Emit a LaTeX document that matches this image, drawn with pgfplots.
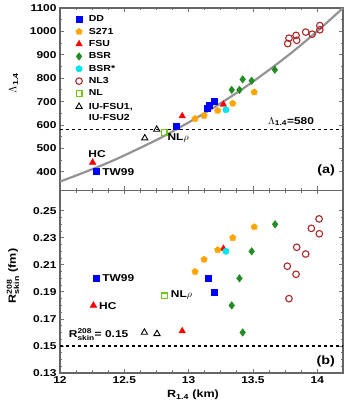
\documentclass[border=0pt]{standalone}
\usepackage{fontspec}
\setmainfont{Liberation Sans}[FakeStretch=1.2]
\usepackage{amsmath}
\usepackage{pgfplots}
\pgfplotsset{compat=1.18}
\definecolor{cDD}{RGB}{0,0,255}
\definecolor{cS}{RGB}{255,165,0}
\definecolor{cF}{RGB}{255,0,0}
\definecolor{cB}{RGB}{34,139,34}
\definecolor{cBs}{RGB}{0,230,235}
\definecolor{cNL3}{RGB}{170,40,40}
\definecolor{cNL}{RGB}{110,200,20}
\pgfplotsset{
  panel/.style={
    width=283bp, height=182.5bp, scale only axis,
    xmin=12, xmax=14.2, xtick={12,12.5,13,13.5,14}, minor x tick num=3,
    tick align=inside, axis line style={black!60, line width=1.5bp},
    tick style={black!55, line width=0.8bp},
    major tick length=4bp, minor tick length=2.5bp,
    tick label style={font=\bfseries\fontsize{10}{12}\selectfont},
    /pgf/number format/assume math mode=true,
    /pgf/number format/1000 sep={},
    label style={font=\bfseries\fontsize{10.5}{12}\selectfont},
    clip=false,
  },
  sDD/.style={only marks, mark=square*, mark size=3bp, color=cDD},
  sS/.style={only marks, mark=pentagon*, mark size=3.4bp, color=cS},
  sF/.style={only marks, mark=triangle*, mark size=3.8bp, color=cF},
  sB/.style={only marks, mark=diamond*, mark size=3.8bp, color=cB},
  sBs/.style={only marks, mark=*, mark size=3.2bp, color=cBs},
  sNL3/.style={only marks, mark=o, mark size=3.3bp, color=cNL3, mark options={line width=1.1bp}},
  sNL/.style={only marks, mark=square, mark size=2.9bp, color=cNL, mark options={line width=1.1bp}},
  sIU/.style={only marks, mark=triangle, mark size=3.6bp, color=black, mark options={line width=0.9bp}},
}
\begin{document}
\begin{tikzpicture}
\path[use as bounding box] (-60bp,-42bp) rectangle (296bp,373bp);
% ---------------- top panel (a)
\begin{axis}[panel, at={(0bp,182.5bp)}, anchor=south west,
  ymin=320, ymax=1100, ytick={400,500,...,1100}, minor y tick num=1,
  xticklabels={},
  ylabel={$\Lambda_{\text{1.4}}$},
  ylabel style={at={(axis description cs:-0.164,0.589)}, anchor=center, rotate=0},
  legend style={at={(axis description cs:0.055,0.970)}, anchor=north west, draw=none, fill=none,
    font=\bfseries\fontsize{8.8}{11.2}\selectfont, row sep=0.75pt, column sep=4.5bp, inner sep=0pt},
  legend cell align=left,
]
\addlegendimage{sDD}\addlegendentry{DD}
\addlegendimage{sS}\addlegendentry{S271}
\addlegendimage{sF}\addlegendentry{FSU}
\addlegendimage{sB}\addlegendentry{BSR}
\addlegendimage{sBs}\addlegendentry{BSR*}
\addlegendimage{sNL3}\addlegendentry{NL3}
\addlegendimage{sNL}\addlegendentry{NL}
\addlegendimage{sIU}\addlegendentry{\begin{tabular}[t]{@{}l@{}}IU-FSU1,\\IU-FSU2\end{tabular}}
\addplot[forget plot, black, dashed, dash pattern=on 3bp off 3bp, line width=1.3bp] coordinates {(12,580) (14.2,580)};
\addplot[forget plot, gray!85, line width=2.2bp, smooth] coordinates {
(12.0,358) (12.2,400) (12.4,445) (12.6,496) (12.8,550) (13.0,611) (13.2,676)
(13.4,747) (13.6,825) (13.8,909) (14.0,1001) (14.2,1100)};
\addplot[forget plot, sF] coordinates {(12.254,440) (12.95,638) (13.27,688)};
\addplot[forget plot, sDD] coordinates {(12.285,402) (12.90,593) (13.145,672) (13.16,683) (13.20,703)};
\addplot[forget plot, sS] coordinates {(13.05,627) (13.12,640) (13.226,661) (13.343,692) (13.51,740)};
\addplot[forget plot, sB] coordinates {(13.335,750) (13.395,750) (13.42,795) (13.49,789) (13.67,836)};
\addplot[forget plot, sBs] coordinates {(13.29,665)};
\addplot[forget plot, sNL3] coordinates {(13.77,948) (13.78,971) (13.835,983) (13.84,962) (13.91,997) (13.96,988) (14.02,1025) (14.02,1007)};
\addplot[forget plot, sNL] coordinates {(12.809,569)};
\addplot[forget plot, sIU] coordinates {(12.659,544) (12.752,581)};
\node[font=\bfseries\fontsize{10}{12}\selectfont] at (axis cs:12.288,474) {HC};
\node[font=\bfseries\fontsize{10}{12}\selectfont, anchor=west, inner sep=0pt] at (axis cs:12.327,399) {TW99};
\node[font=\bfseries\fontsize{10}{12}\selectfont, anchor=west, inner sep=0pt] at (axis cs:12.835,545) {NL$\rho$};
\node[font=\bfseries\fontsize{10}{12}\selectfont] at (axis cs:13.796,614) {$\Lambda_{\text{1.4}}$=580};
\node[font=\bfseries\fontsize{12}{14}\selectfont] at (axis cs:14.068,407) {(a)};
\end{axis}
% ---------------- bottom panel (b)
\begin{axis}[panel, at={(0bp,0bp)}, anchor=south west,
  ymin=0.13, ymax=0.265, ytick={0.13,0.15,0.17,0.19,0.21,0.23,0.25}, minor y tick num=3,
  yticklabel style={/pgf/number format/.cd, fixed, fixed zerofill, precision=2},
  xlabel={R$_{\text{1.4}}$ (km)},
  xlabel style={at={(axis description cs:0.470,-0.1205)}, anchor=center},
  ylabel={R$^{\text{208}}_{\text{skin}}$ (fm)},
  ylabel style={at={(axis description cs:-0.166,0.532)}, anchor=center, rotate=0},
]
\addplot[black, dashed, dash pattern=on 3bp off 3bp, line width=1.3bp] coordinates {(12,0.15) (14.2,0.15)};
\addplot[sF] coordinates {(12.26,0.180) (12.95,0.161) (13.27,0.222)};
\addplot[sDD] coordinates {(12.28,0.200) (13.153,0.200) (13.20,0.190)};
\addplot[sS] coordinates {(13.05,0.205) (13.12,0.214) (13.226,0.221) (13.343,0.230) (13.51,0.238)};
\addplot[sB] coordinates {(13.672,0.240) (13.49,0.220) (13.395,0.200) (13.335,0.180) (13.42,0.160)};
\addplot[sBs] coordinates {(13.29,0.220)};
\addplot[sNL3] coordinates {(14.014,0.244) (13.954,0.237) (14.016,0.233) (13.84,0.223) (13.91,0.218) (13.767,0.209) (13.835,0.203) (13.78,0.185)};
\addplot[sNL] coordinates {(12.81,0.187)};
\addplot[sIU] coordinates {(12.656,0.160) (12.754,0.159)};
\node[font=\bfseries\fontsize{10}{12}\selectfont, anchor=west, inner sep=0pt] at (axis cs:12.327,0.200) {TW99};
\node[font=\bfseries\fontsize{10}{12}\selectfont, anchor=west, inner sep=0pt] at (axis cs:12.303,0.1797) {HC};
\node[font=\bfseries\fontsize{10}{12}\selectfont, anchor=west, inner sep=0pt] at (axis cs:12.861,0.1874) {NL$\rho$};
\node[font=\bfseries\fontsize{10}{12}\selectfont, inner sep=1pt] at (axis cs:12.30,0.1585) {R$^{\text{208}}_{\text{skin}}$= 0.15};
\node[font=\bfseries\fontsize{12}{14}\selectfont] at (axis cs:14.066,0.1384) {(b)};
\end{axis}
\end{tikzpicture}
\end{document}
